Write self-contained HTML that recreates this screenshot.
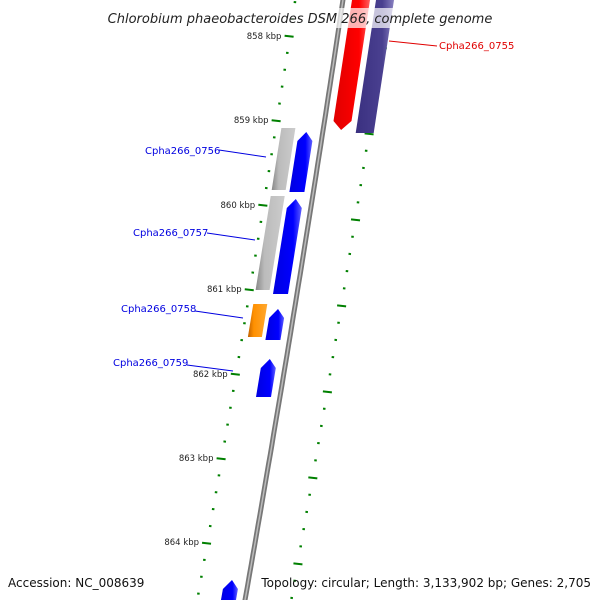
<!DOCTYPE html>
<html><head><meta charset="utf-8"><style>
body{margin:0;background:#fff}
svg{display:block;font-family:"DejaVu Sans","Liberation Sans",sans-serif}
</style></head><body>
<svg id="c" width="600" height="600" viewBox="0 0 600 600">
<defs>
<linearGradient id="gGray" x1="0" x2="1"><stop offset="0" stop-color="#888"/><stop offset="0.3" stop-color="#bbb"/><stop offset="1" stop-color="#ccc"/></linearGradient>
<linearGradient id="gBlue" x1="0" x2="1"><stop offset="0" stop-color="#0000e0"/><stop offset="0.7" stop-color="#0000ff"/><stop offset="1" stop-color="#6060ff"/></linearGradient>
<linearGradient id="gRed" x1="0" x2="1"><stop offset="0" stop-color="#e00000"/><stop offset="0.7" stop-color="#ff0000"/><stop offset="1" stop-color="#ff6060"/></linearGradient>
<linearGradient id="gPur" x1="0" x2="1"><stop offset="0" stop-color="#3a3080"/><stop offset="0.7" stop-color="#4a4090"/><stop offset="1" stop-color="#8880c0"/></linearGradient>
<linearGradient id="gOr" x1="0" x2="1"><stop offset="0" stop-color="#c06000"/><stop offset="0.3" stop-color="#ff9000"/><stop offset="1" stop-color="#ffa830"/></linearGradient>
<linearGradient id="gLine" x1="0" x2="1"><stop offset="0" stop-color="#555"/><stop offset="0.5" stop-color="#aaa"/><stop offset="1" stop-color="#666"/></linearGradient>
</defs>
<g id="ticks"></g>
<g id="backbone"></g>
<g id="genes"></g>
<g id="labels"></g>
<rect x="95" y="8" width="412" height="20" fill="#fff" opacity="0.7"/>
<text x="300" y="23" text-anchor="middle" font-size="13" font-style="italic" fill="#222">Chlorobium phaeobacteroides DSM 266, complete genome</text>
<text x="8" y="587" font-size="12" fill="#111">Accession: NC_008639</text>
<text x="591" y="587" text-anchor="end" font-size="12" fill="#111">Topology: circular; Length: 3,133,902 bp; Genes: 2,705</text>
</svg>
<script>
// data
const kbpLabels = ["858 kbp","859 kbp","860 kbp","861 kbp","862 kbp","863 kbp","864 kbp"];
const kbpY = [37,121,206,290,375,459,543];
const geneNames = ["red-gene","purple-gene","gray-gene-1","blue-gene-1","gray-gene-2","blue-gene-2","orange-gene","blue-gene-3","blue-gene-4","blue-gene-5"];
const geneStart = [0,0,128,132,196,199,304,309,359,580];
const geneEnd = [130,133,190,192,290,294,337,340,397,605];
const geneTrack = [2,3,0,1,0,1,0,1,1,1];
const geneDir = [-1,0,0,1,0,1,0,1,1,1];
const geneFill = ["gRed","gPur","gGray","gBlue","gGray","gBlue","gOr","gBlue","gBlue","gBlue"];
const labelText = ["Cpha266_0755","Cpha266_0756","Cpha266_0757","Cpha266_0758","Cpha266_0759"];
const labelColor = ["#e00000","#0000e0","#0000e0","#0000e0","#0000e0"];
const labelTextX = [439,145,133,121,113];
const labelTextY = [49,154,236,312,366];
const labelLine = [[389,41,437,46],[219,150,266,157],[207,233,255,240],[195,311,243,318],[187,365,233,371]];

const NS="http://www.w3.org/2000/svg";
const L = y => 343 - 0.15*y - 0.0000222*y*y;
const trackOff = [[-42,-28],[-24,-9],[9,27],[33,51]];
function mk(tag, attrs, parent){const e=document.createElementNS(NS,tag);for(const k in attrs)e.setAttribute(k,attrs[k]);parent.appendChild(e);return e;}
const tg=document.getElementById('ticks');
// left ticks
for(let y=2;y<600;y+=16.9){
  const x=L(y)-48;
  const major=kbpY.some(k=>Math.abs(k-y)<3);
  const e=mk('line',{x1:x-(major?5:1),y1:y,x2:x+(major?4:1.5),y2:y+(major?1:0.3),stroke:'#008000','stroke-width':2},tg);
  
  
}
kbpLabels.forEach((t,i)=>{
  const e=mk('text',{x:L(kbpY[i])-56,y:kbpY[i]+2,'text-anchor':'end','font-size':8.5,fill:'#222'},tg);e.textContent=t;
  
  
});
// right ticks
for(let y=13;y<600;y+=17.2){
  const x=L(y)+46;
  const major=[47,133,219,305,392,478,564].some(k=>Math.abs(k-y)<4);
  const e=mk('line',{x1:x-(major?4:1),y1:y,x2:x+(major?5:1.5),y2:y+(major?1:0.3),stroke:'#008000','stroke-width':2},tg);
  
  
}
// backbone
const bg=document.getElementById('backbone');
let d='';for(let y=-5;y<=605;y+=10){d+=(y<0?'M':'L')+L(y).toFixed(1)+','+y+' ';}
const bb=mk('path',{d:d,fill:'none',stroke:'#777','stroke-width':5},bg);


mk('path',{d:d,fill:'none',stroke:'#bbb','stroke-width':1.5},bg);
// genes
const gg=document.getElementById('genes');
geneNames.forEach((n,i)=>{
  const [a,b]=trackOff[geneTrack[i]];
  const s=geneStart[i],e=geneEnd[i],ah=9;
  let pts;
  const P=(y,o)=>(L(y)+o).toFixed(1)+','+y;
  const m=(a+b)/2;
  if(geneDir[i]===1) pts=[P(s,m),P(s+ah,b),P(e,b),P(e,a),P(s+ah,a)];
  else if(geneDir[i]===-1) pts=[P(s,a),P(s,b),P(e-ah,b),P(e,m),P(e-ah,a)];
  else pts=[P(s,a),P(s,b),P(e,b),P(e,a)];
  const el=mk('polygon',{points:pts.join(' '),fill:'url(#'+geneFill[i]+')'},gg);
  
  
});
// labels
const lg=document.getElementById('labels');
labelText.forEach((t,i)=>{
  const l=labelLine[i];
  const ln=mk('line',{x1:l[0],y1:l[1],x2:l[2],y2:l[3],stroke:labelColor[i],'stroke-width':1},lg);
  
  
  const tx=mk('text',{x:labelTextX[i],y:labelTextY[i],'font-size':10,fill:labelColor[i]},lg);tx.textContent=t;
  
  
});
</script>
</body></html>
